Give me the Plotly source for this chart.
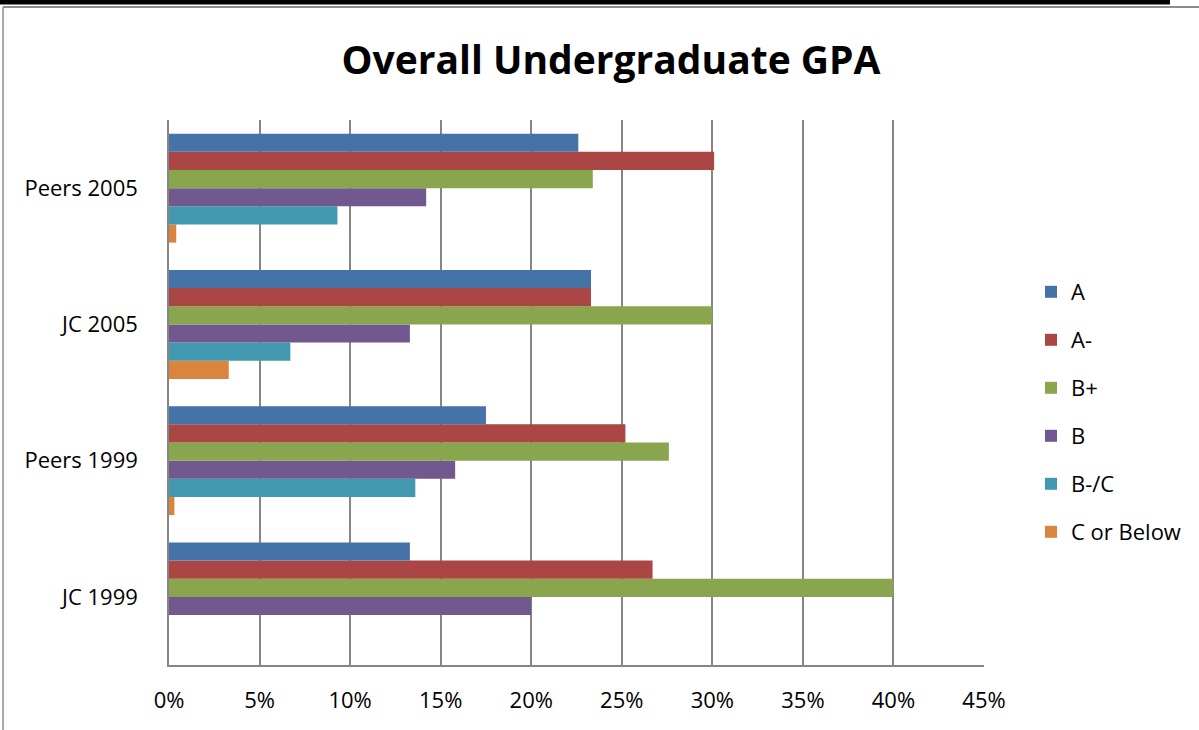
import plotly.graph_objects as go

categories = ["JC 1999", "Peers 1999", "JC 2005", "Peers 2005"]
series_names = ["A", "A-", "B+", "B", "B-/C", "C or Below"]
colors = ["#4572A7", "#AA4643", "#89A54E", "#71588F", "#4198AF", "#DB843D"]
# values in %, order matches categories
A = [13.3, 17.5, 23.3, 22.6]
A_minus = [26.7, 25.2, 23.3, 30.1]
B_plus = [40.0, 27.6, 30.0, 23.4]
B = [20.0, 15.8, 13.3, 14.2]
B_minus_C = [0.0, 13.6, 6.7, 9.3]
C_below = [0.0, 0.3, 3.3, 0.4]
series_values = [A, A_minus, B_plus, B, B_minus_C, C_below]
tick_vals = [0, 5, 10, 15, 20, 25, 30, 35, 40, 45]
tick_text = [f"{v}%" for v in tick_vals]

FONT = "Open Sans"
fig = go.Figure()
# add in reverse order so that "A" sits at the top of each group
items = list(enumerate(zip(series_names, series_values, colors)))
for rank, (name, vals, col) in reversed(items):
    fig.add_trace(go.Bar(
        y=categories, x=vals, name=name, orientation="h",
        marker=dict(color=col, line=dict(width=0)),
        legendgroup=name, legendrank=rank + 1,
    ))

L, R, T, B_ = 169, 1199 - 984, 120, 730 - 665
W, H = 1199 - L - R, 730 - T - B_

def px(x):
    return (x - L) / W

def py(y):
    return (730 - B_ - y) / H

fig.update_layout(
    width=1199, height=730,
    margin=dict(l=L, r=R, t=T, b=B_, autoexpand=False),
    paper_bgcolor="white", plot_bgcolor="white",
    barmode="group", bargap=0.2, bargroupgap=0,
    font=dict(family=FONT, size=22, color="black"),
    title=dict(text="<b>Overall Undergraduate GPA</b>", x=611 / 1199, xanchor="center",
               y=1 - 60 / 730, yanchor="middle", font=dict(size=39, family=FONT, color="black")),
    showlegend=True,
    legend=dict(traceorder="grouped", xref="container", yref="container",
                x=1031 / 1199, xanchor="left", y=1 - 271 / 730, yanchor="top",
                font=dict(size=22, family=FONT), tracegroupgap=16.4, itemwidth=30,
                bgcolor="rgba(0,0,0,0)"),
    xaxis=dict(range=[0, 45], tickvals=tick_vals, ticktext=tick_text,
               showgrid=True, gridcolor="#868686", gridwidth=1.5,
               showline=True, linecolor="#868686", linewidth=1.5,
               ticks="", zeroline=False, fixedrange=True, ticklabelstandoff=15,
               tickfont=dict(size=22)),
    yaxis=dict(showgrid=False, showline=True, linecolor="#868686", linewidth=1.5,
               ticks="", ticklabelstandoff=25, tickfont=dict(size=22), fixedrange=True),
    shapes=[
        dict(type="rect", xref="paper", yref="paper", x0=px(0), x1=px(1170), y0=py(0), y1=py(4.5),
             fillcolor="black", line=dict(width=0), layer="above"),
        dict(type="line", xref="paper", yref="paper", x0=px(3), x1=px(1199), y0=py(7), y1=py(7),
             line=dict(color="#8c8c8c", width=2)),
        dict(type="line", xref="paper", yref="paper", x0=px(3), x1=px(3), y0=py(7), y1=py(730),
             line=dict(color="#8c8c8c", width=1.5)),
    ],
)

fig.write_html("out.html", config={"displayModeBar": False},
               post_script="document.body.style.margin='0';document.body.style.overflow='hidden';")
